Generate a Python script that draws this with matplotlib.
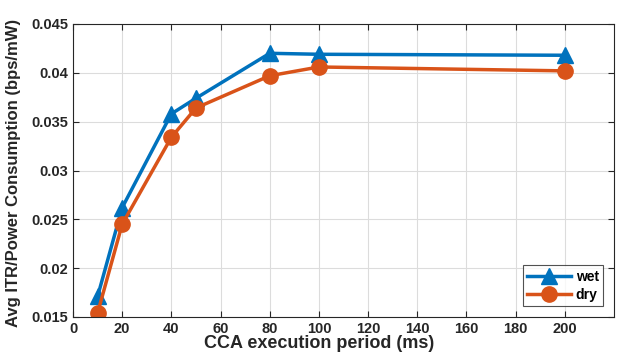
import matplotlib
matplotlib.use("Agg")
import matplotlib.pyplot as plt

x_period = [10, 20, 40, 50, 80, 100, 200]
wet = [0.0171, 0.0262, 0.0358, 0.0374, 0.0420, 0.0419, 0.0418]
dry = [0.0154, 0.0245, 0.0334, 0.0364, 0.0397, 0.0406, 0.0402]
xticks = list(range(0, 201, 20))
yticks = [0.015, 0.02, 0.025, 0.03, 0.035, 0.04, 0.045]
ytick_labels = ["0.015", "0.02", "0.025", "0.03", "0.035", "0.04", "0.045"]

plt.rcParams['font.family'] = ['Liberation Sans', 'DejaVu Sans']
plt.rcParams['font.weight'] = 'bold'

fig = plt.figure(figsize=(6.28, 3.6), dpi=100)
ax = fig.add_axes([73/628, 1 - 317/360, (614-73)/628, (317-24)/360])

ax.plot(x_period, wet, color='#0072BD', lw=2.5, marker='^', ms=12, label='wet')
ax.plot(x_period, dry, color='#D95319', lw=2.5, marker='o', ms=11, label='dry')

ax.set_xlim(0, 220)
ax.set_ylim(0.015, 0.045)
ax.set_xticks(xticks)
ax.set_yticks(yticks)
ax.set_yticklabels(ytick_labels)
ax.grid(True, color='#dcdcdc', lw=0.8)
ax.set_axisbelow(True)
ax.tick_params(direction='in', top=True, right=True, labelsize=10.5, colors='#262626', length=4)
for s in ax.spines.values():
    s.set_color('#262626')
    s.set_linewidth(0.8)
for lab in ax.get_xticklabels() + ax.get_yticklabels():
    lab.set_fontweight('bold')

ax.set_xlabel('CCA execution period (ms)', fontsize=13, fontweight='bold', color='#262626')
ax.xaxis.set_label_coords((319 - 73) / 541, -0.06)
ax.xaxis.label.set_va('top')
ax.set_ylabel('Avg ITR/Power Consumption (bps/mW)', fontsize=12, fontweight='bold', color='#262626')
ax.yaxis.set_label_coords(-52 / 541, 0.49)

leg = ax.legend(loc='lower right', fontsize=10, frameon=True, fancybox=False,
                edgecolor='#262626', handlelength=3.2, borderpad=0.3, labelspacing=0.3,
                handletextpad=0.3, borderaxespad=0.8)
leg.get_frame().set_linewidth(0.8)
for t in leg.get_texts():
    t.set_fontweight('bold')

fig.savefig('out.png', dpi=100)
